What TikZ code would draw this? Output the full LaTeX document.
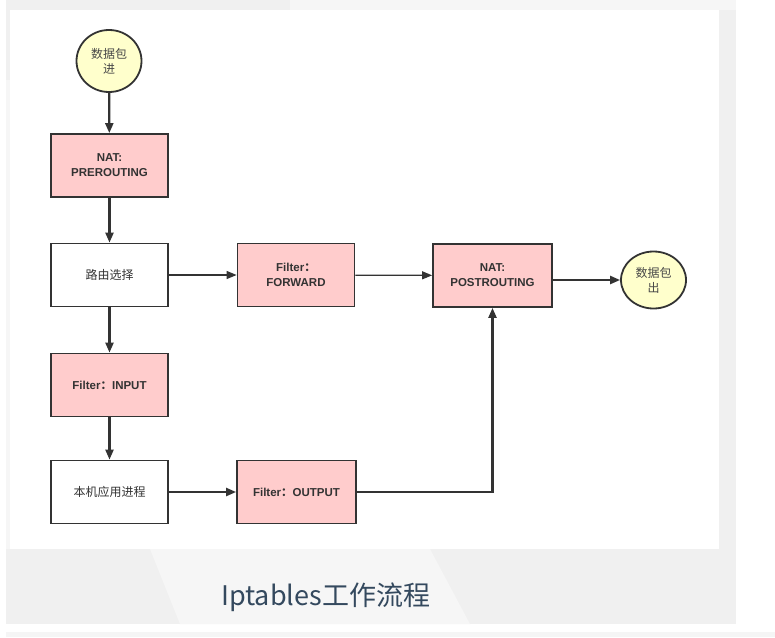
\documentclass[tikz,border=0pt]{standalone}
\usepackage{fontspec}
\setmainfont{Liberation Sans}
\newfontfamily\cjk{Noto Sans CJK SC}
\usepackage{tikz}
\usetikzlibrary{arrows.meta,shapes.geometric}
\definecolor{boxpink}{HTML}{FFCCCC}
\definecolor{dotyellow}{HTML}{FFFFCC}
\definecolor{edge}{HTML}{333333}
\definecolor{capcol}{HTML}{34495E}
\definecolor{bggrey}{HTML}{F0F0F0}
\definecolor{bglight}{HTML}{F6F6F6}

\tikzset{
  pinkbox/.style={draw=edge, line width=1.8pt, fill=boxpink, minimum width=117pt,
    minimum height=63pt, align=center, text=edge,
    font=\fontsize{11.5}{15}\selectfont\bfseries},
  whitebox/.style={pinkbox, fill=white, font=\cjk\fontsize{12}{14}\selectfont},
  packet/.style={ellipse, draw=edge, line width=1.8pt, fill=dotyellow, align=center,
    inner sep=0pt, text=edge!90, font=\cjk\fontsize{12}{15}\selectfont},
  heavy/.style={line width=2.2pt, draw=edge},
  light/.style={line width=1.2pt, draw=edge}
}

\begin{document}
\begin{tikzpicture}[x=1pt, y=-1pt, >={Triangle[length=10pt,width=8pt]}]
    \useasboundingbox (0,0) rectangle (775,637);
    % backdrop
    \fill[white] (0,0) rectangle (775,637);
    \fill[bggrey] (6,0) rectangle (736,624);
    \fill[bglight] (290,0) rectangle (736,10);
    \fill[bglight] (150,549) -- (430,549) -- (470,624) -- (180,624) -- cycle;
    \fill[bglight] (6,80) rectangle (10,549);
    \fill[bggrey!70] (6,632) rectangle (775,637);
    \fill[white] (10,10) rectangle (719,549);
    % nodes
    \node[packet, minimum width=65pt, minimum height=62pt] (a) at (109, 61) {数据包\\进};
    \node[pinkbox] (b) at (109.5, 165.5) {NAT:\\PREROUTING};
    \node[whitebox] (c) at (109.5, 275) {路由选择};
    \node[pinkbox] (d) at (296, 275) {Filter{\cjk ：}\\FORWARD};
    \node[pinkbox, minimum width=119pt] (e) at (492.5, 275.5) {NAT:\\POSTROUTING};
    \node[packet, minimum width=65pt, minimum height=57pt] (f) at (653.5, 280) {数据包\\出};
    \node[pinkbox] (g) at (109.5, 385) {Filter{\cjk ：}INPUT};
    \node[whitebox] (h) at (109.5, 492) {本机应用进程};
    \node[pinkbox, minimum width=119pt] (i) at (296.5, 492) {Filter{\cjk ：}OUTPUT};
    \node[anchor=base west, inner sep=0pt, text=capcol,
      font=\cjk\fontsize{27}{30}\selectfont] (t) at (221, 605) {Iptables工作流程};
    % connectors
    \draw [->, heavy] (a) to (b);
    \draw [->, heavy] (b) to (c);
    \draw [->, light] (c) to (d);
    \draw [->, light] (d) to (e);
    \draw [->, heavy] (e.east |- f.west) to (f.west);
    \draw [->, heavy] (c) to (g);
    \draw [->, heavy] (g) to (h);
    \draw [->, heavy] (h) to (i);
    \draw [->, heavy] (i.east) -| (e.south);
\end{tikzpicture}
\end{document}
